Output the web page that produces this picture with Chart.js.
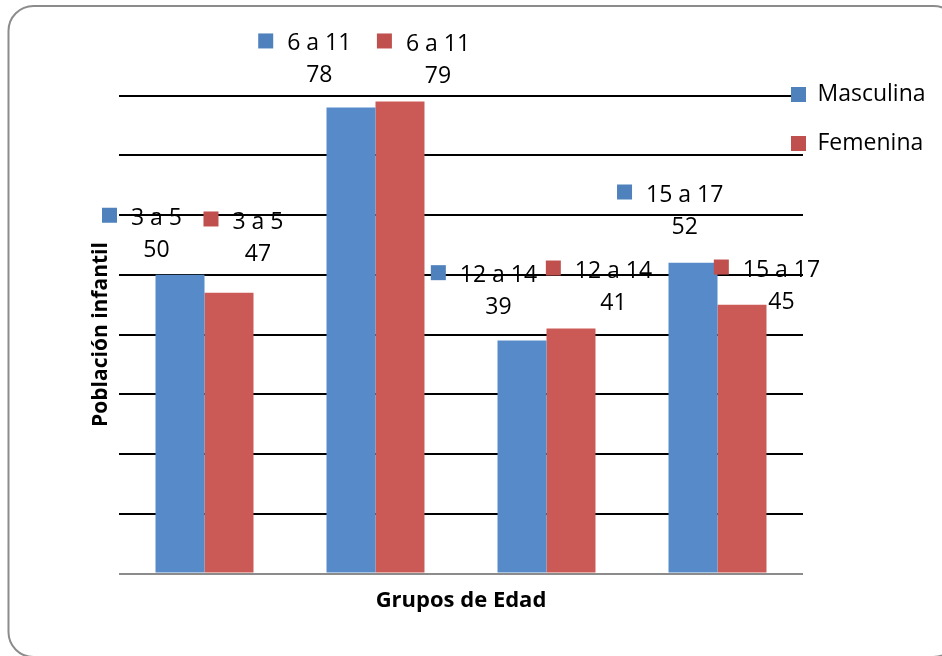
<!DOCTYPE html>
<html lang="es">
<head>
<meta charset="utf-8">
<title>Población infantil por grupos de edad</title>
<script src="https://cdn.jsdelivr.net/npm/chart.js@4.4.1/dist/chart.umd.min.js"></script>
<style>
  html, body { margin: 0; padding: 0; background: #fff; }
  canvas { display: block; }
</style>
</head>
<body>
<canvas id="chart" width="942" height="656"></canvas>
<script>
// Age groups and population per sex
const categories = ['3 a 5', '6 a 11', '12 a 14', '15 a 17'];
const seriesNames = ['Masculina', 'Femenina'];
const masculina = [50, 78, 39, 52];
const femenina = [47, 79, 41, 45];
const yMax = 80;
const yStep = 10;

// Styling
const barColors = ['#568AC8', '#CB5A56'];
const keyColors = ['#4F81BD', '#C0504D'];
const FONT = '"Open Sans", "Liberation Sans", sans-serif';

// Where each bar's tag sits, relative to the top centre of its bar [dx, dy]
const tagNudge = [
  [[-23.5, -26.5], [-31.7, -33.5], [-23.5, -34.8], [-8.3, -37.8]],
  [[29, -40.7], [38, -27.5], [42.5, -27.5], [39.5, -4.6]]
];

// Rounded frame around the whole chart
const framePlugin = {
  id: 'frame',
  beforeDraw(chart) {
    const ctx = chart.ctx;
    ctx.save();
    ctx.fillStyle = '#fff';
    ctx.fillRect(0, 0, chart.width, chart.height);
    ctx.strokeStyle = '#8c8c8c';
    ctx.lineWidth = 2;
    ctx.beginPath();
    ctx.roundRect(8.5, 6, 950, 651, 25);
    ctx.stroke();
    ctx.restore();
  }
};

// Legend sits just over the right end of the gridlines
const legendPlace = {
  id: 'legendPlace',
  afterLayout(chart) {
    const lg = chart.legend;
    if (!lg) return;
    const pad = lg.options.labels.padding;
    const left = chart.chartArea.right - 12 - pad;
    const top = chart.chartArea.top - 12.5 - pad;
    lg.left = left;
    lg.right = chart.width;
    lg.width = lg.right - lg.left;
    const h = lg.height;
    lg.top = top;
    lg.bottom = top + h;
  }
};

// Per-bar tags: key square + age group, value underneath
const barTags = {
  id: 'barTags',
  afterDatasetsDraw(chart) {
    const ctx = chart.ctx;
    ctx.save();
    ctx.font = '23px ' + FONT;
    ctx.textAlign = 'center';
    ctx.textBaseline = 'middle';
    chart.data.datasets.forEach((ds, d) => {
      const meta = chart.getDatasetMeta(d);
      meta.data.forEach((bar, i) => {
        const [dx, dy] = tagNudge[d][i];
        const cx = bar.x + dx;
        const vy = bar.y + dy;
        const ty = vy - 32;
        const name = chart.data.labels[i];
        const w = ctx.measureText(name).width;
        ctx.fillStyle = '#000';
        ctx.fillText(String(ds.data[i]), cx, vy + 2);
        ctx.fillText(name, cx, ty + 2);
        ctx.fillStyle = keyColors[d];
        ctx.fillRect(cx - w / 2 - 14 - 15, ty - 1 - 7.5, 15, 15);
      });
    });
    ctx.restore();
  }
};

function build() {
  new Chart(document.getElementById('chart'), {
    type: 'bar',
    data: {
      labels: categories,
      datasets: [
        { label: seriesNames[0], data: masculina, backgroundColor: barColors[0], borderWidth: 0 },
        { label: seriesNames[1], data: femenina, backgroundColor: barColors[1], borderWidth: 0 }
      ]
    },
    options: {
      responsive: false,
      animation: false,
      devicePixelRatio: 1,
      layout: { padding: { top: 95.5, left: 0, right: 0, bottom: 0 } },
      datasets: { bar: { categoryPercentage: 0.573, barPercentage: 1 } },
      scales: {
        x: {
          ticks: { display: false },
          grid: { display: false, drawTicks: false },
          border: { display: false },
          title: {
            display: true, text: 'Grupos de Edad', color: '#000',
            font: { family: FONT, size: 22, weight: 'bold', lineHeight: 1.2 },
            padding: { top: 14.5, bottom: 41.6 }
          }
        },
        y: {
          min: 0, max: yMax,
          ticks: { display: false, stepSize: yStep },
          grid: {
            drawTicks: false, lineWidth: 2,
            color: c => (c.tick && c.tick.value === 0) ? '#8c8c8c' : '#000'
          },
          border: { display: false },
          title: {
            display: true, text: 'Población infantil', color: '#000',
            font: { family: FONT, size: 21, weight: 'bold', lineHeight: 1.2 },
            padding: { top: 88.4, bottom: 5.4 }
          }
        }
      },
      plugins: {
        tooltip: { enabled: false },
        legend: {
          position: 'right',
          align: 'start',
          maxWidth: 139,
          labels: {
            color: '#000',
            font: { family: FONT, size: 23 },
            boxWidth: 15, boxHeight: 15, padding: 26,
            generateLabels(chart) {
              const items = Chart.defaults.plugins.legend.labels.generateLabels(chart);
              items.forEach((it, i) => {
                it.fillStyle = keyColors[i];
                it.strokeStyle = keyColors[i];
                it.lineWidth = 0;
              });
              return items;
            }
          }
        }
      }
    },
    plugins: [framePlugin, legendPlace, barTags]
  });
}

Promise.all([
  document.fonts.load('23px "Open Sans"'),
  document.fonts.load('bold 21px "Open Sans"')
]).then(build, build);
</script>
</body>
</html>
